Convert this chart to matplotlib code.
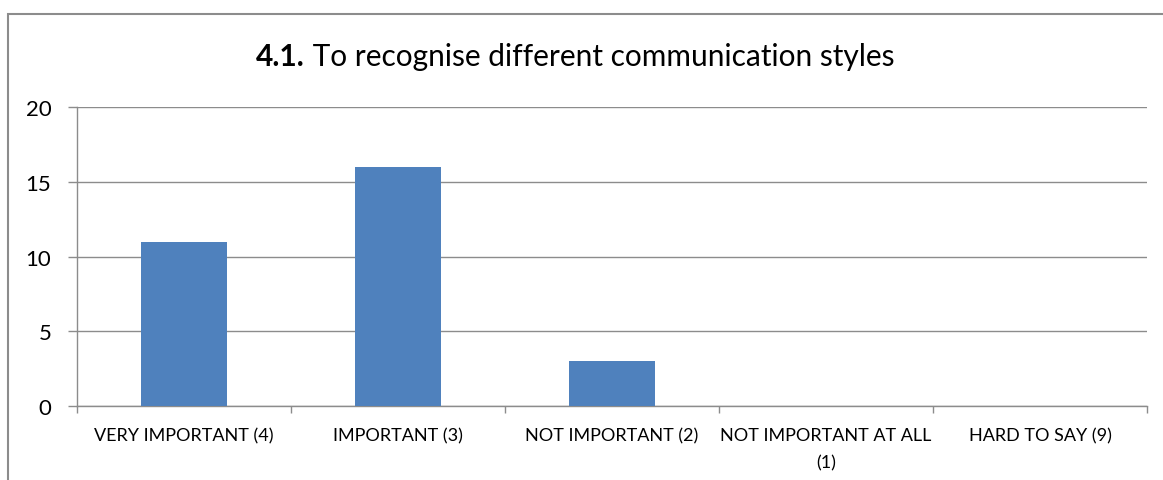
import matplotlib.pyplot as plt
from matplotlib.patches import Rectangle
import numpy as np

categories = ['VERY IMPORTANT (4)', 'IMPORTANT (3)', 'NOT IMPORTANT (2)',
              'NOT IMPORTANT AT ALL\n(1)', 'HARD TO SAY (9)']
values = [11, 16, 3, 0, 0]
yticks = [0, 5, 10, 15, 20]

plt.rcParams['font.family'] = ['Lato', 'DejaVu Sans']

fig = plt.figure(figsize=(11.63, 4.81), dpi=100)
ax = fig.add_axes([77 / 1163, 74 / 481, 1070 / 1163, 299 / 481])

# outer chart frame (cut off on the right and bottom)
fig.patches.append(Rectangle((8 / 1163, -0.1), 1.2, 466 / 481 + 0.1,
                             transform=fig.transFigure, fill=False,
                             edgecolor='#8c8c8c', linewidth=1.5))

x = np.arange(len(categories))
ax.bar(x, values, width=0.4, color='#4f81bd', zorder=3)

ax.set_xlim(-0.5, len(categories) - 0.5)
ax.set_ylim(0, 20)
ax.set_yticks(yticks)
ax.set_yticklabels([str(t) for t in yticks], fontsize=16)
ax.yaxis.grid(True, color='#8c8c8c', linewidth=1)
ax.set_axisbelow(True)

ax.set_xticks(x)
ax.set_xticklabels(categories, fontsize=13, linespacing=1.9)
ax.set_xticks(np.arange(len(categories) + 1) - 0.5, minor=True)
ax.tick_params(axis='x', which='major', length=0, pad=15)
ax.tick_params(axis='x', which='minor', length=5, color='#8c8c8c', width=1)
ax.tick_params(axis='y', length=6.5, color='#8c8c8c', width=1, pad=12)

for s in ['top', 'right']:
    ax.spines[s].set_visible(False)
for s in ['left', 'bottom']:
    ax.spines[s].set_color('#8c8c8c')
    ax.spines[s].set_linewidth(1)

# title: bold number followed by regular text
t1 = fig.text(0.5, 1 - 57 / 481, '4.1.', fontsize=21.5, fontweight='bold', va='center')
t2 = fig.text(0.5, 1 - 57 / 481, ' To recognise different communication styles',
              fontsize=21.5, va='center')
fig.canvas.draw()
r = fig.canvas.get_renderer()
w1 = t1.get_window_extent(r).width
w2 = t2.get_window_extent(r).width
start = 575 - (w1 + w2) / 2
t1.set_x(start / 1163)
t2.set_x((start + w1) / 1163)

fig.savefig('out.png', dpi=100)
